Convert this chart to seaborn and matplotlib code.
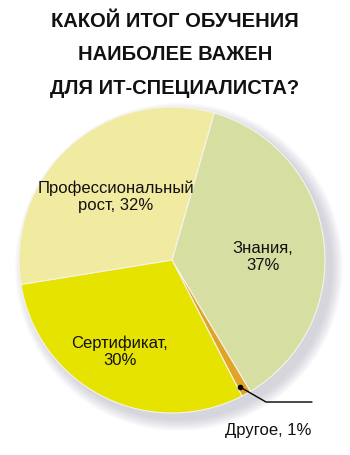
import matplotlib
matplotlib.use("Agg")
import matplotlib.pyplot as plt
import seaborn as sns
from matplotlib.patches import Circle

sns.set_theme(style="white")
plt.rcParams['font.family'] = ['Liberation Sans', 'DejaVu Sans']

title = "КАКОЙ ИТОГ ОБУЧЕНИЯ\nНАИБОЛЕЕ ВАЖЕН\nДЛЯ ИТ-СПЕЦИАЛИСТА?"
categories = ["Знания", "Другое", "Сертификат", "Профессиональный рост"]
values = [37, 1, 30, 32]
labels = ["Знания,\n37%", "Другое, 1%", "Сертификат,\n30%", "Профессиональный\nрост, 32%"]
colors = ["#d6dea2", "#e2a426", "#e6e300", "#f1eba1"]

W, H = 350, 455
fig = plt.figure(figsize=(W / 100, H / 100), dpi=100)
ax = fig.add_axes([0, 0, 1, 1])

cx, cy, r = 172, H - 260, 153

# soft drop shadow
for i in range(12):
    ax.add_patch(Circle((cx + 7, cy - 7), r + 11 - i, color="#8a8aa0",
                        alpha=0.03, lw=0, zorder=0))

wedges, _ = ax.pie(values, colors=colors, startangle=74, counterclock=False,
                   center=(cx, cy), radius=r,
                   wedgeprops=dict(edgecolor="#f4f4ec", linewidth=0.8))
for w in wedges:
    w.set_zorder(2)

ax.set_xlim(0, W)
ax.set_ylim(0, H)
ax.set_aspect("equal")
ax.axis("off")

fig.text(0.5, 1 - 55 / H, title, ha="center", va="center", fontsize=14.5,
         fontweight="bold", linespacing=1.95, color="#111111")

fs = 12
kw = dict(ha="center", va="center", fontsize=fs, linespacing=1.2,
          color="#111111", zorder=5)
ax.text(116, H - 197, labels[3], **kw)
ax.text(263, H - 257, labels[0], **kw)
ax.text(120, H - 352, labels[2], **kw)
ax.text(268, H - 430, labels[1], **kw)

# leader line for "Другое"
ax.plot([240, 266, 312], [H - 387, H - 402, H - 402], color="black", lw=1, zorder=6)
ax.plot([240], [H - 387], "o", color="black", ms=3, zorder=6)

fig.savefig("out.png", dpi=100)
